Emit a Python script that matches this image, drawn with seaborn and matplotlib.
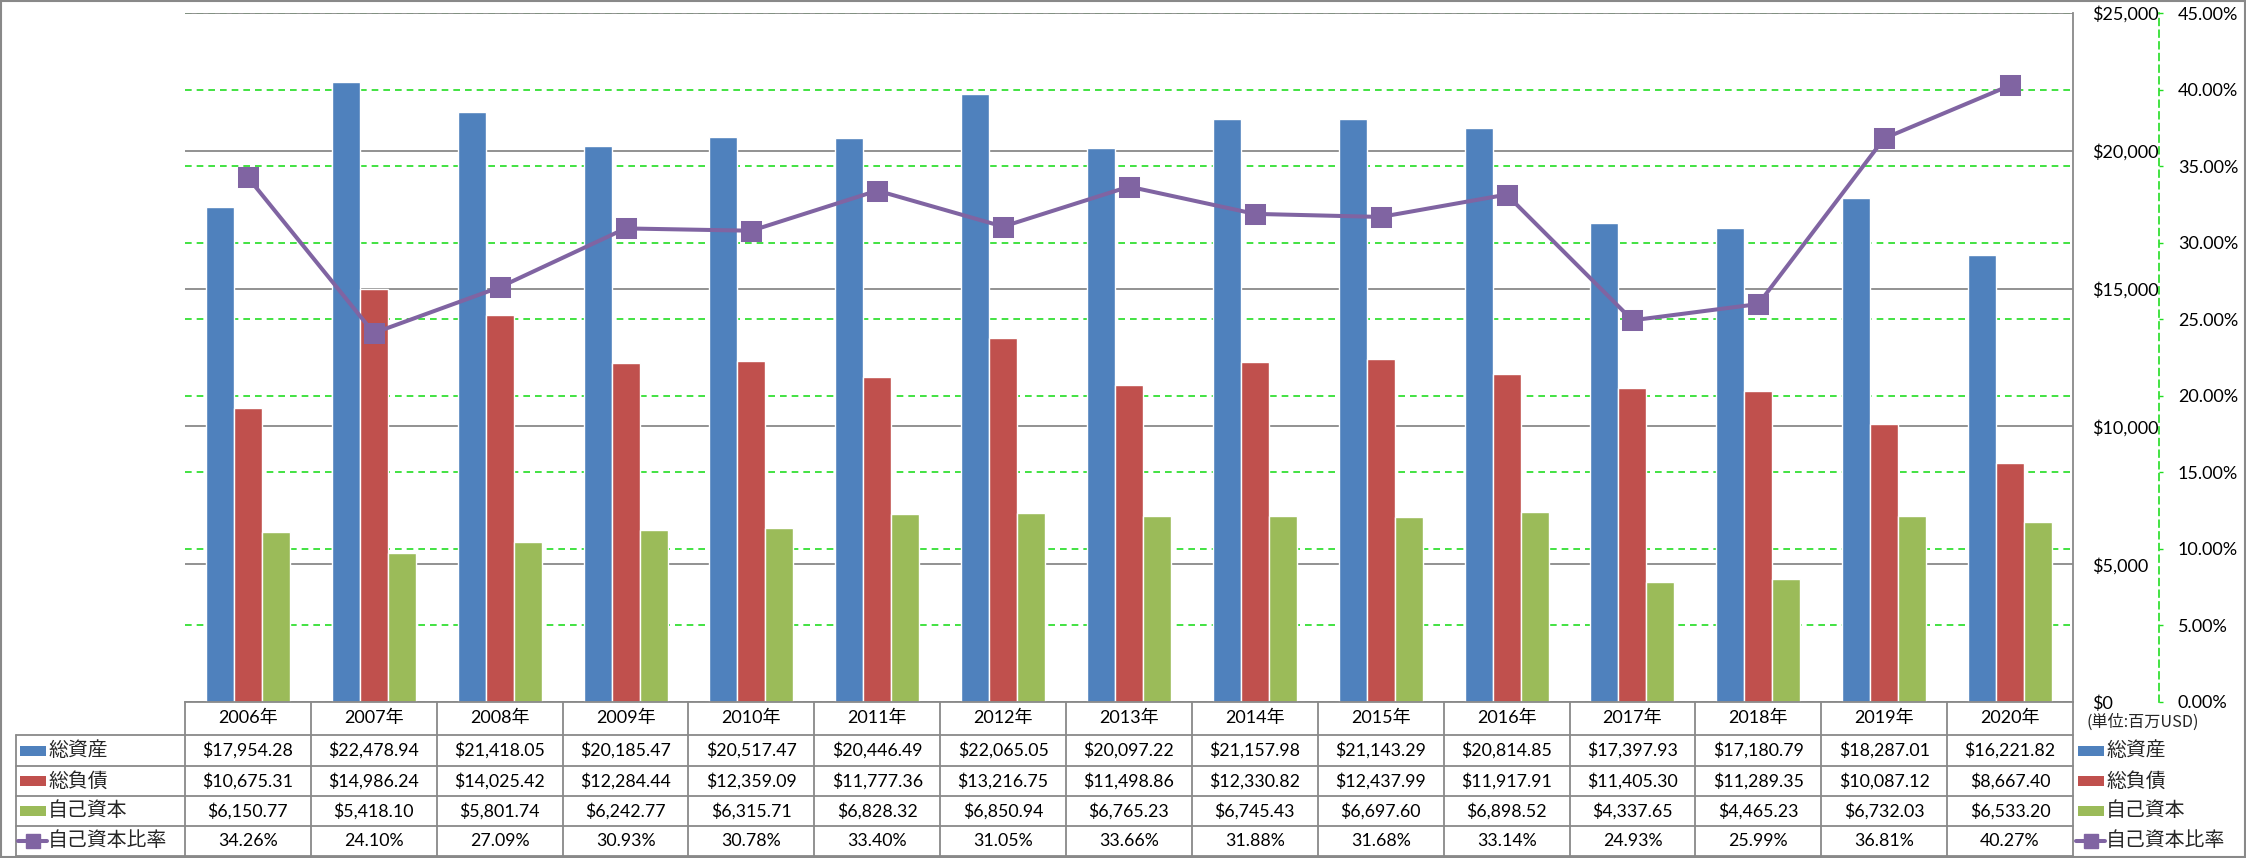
import numpy as np
import pandas as pd
import matplotlib
matplotlib.use('Agg')
import matplotlib.pyplot as plt
import matplotlib.transforms as mtransforms
from matplotlib.lines import Line2D
from matplotlib.patches import Rectangle
import seaborn as sns

# --- data ---
years = ['2006年', '2007年', '2008年', '2009年', '2010年', '2011年', '2012年', '2013年',
         '2014年', '2015年', '2016年', '2017年', '2018年', '2019年', '2020年']
total_assets = [17954.28, 22478.94, 21418.05, 20185.47, 20517.47, 20446.49, 22065.05, 20097.22,
                21157.98, 21143.29, 20814.85, 17397.93, 17180.79, 18287.01, 16221.82]
total_debt = [10675.31, 14986.24, 14025.42, 12284.44, 12359.09, 11777.36, 13216.75, 11498.86,
              12330.82, 12437.99, 11917.91, 11405.30, 11289.35, 10087.12, 8667.40]
equity = [6150.77, 5418.10, 5801.74, 6242.77, 6315.71, 6828.32, 6850.94, 6765.23,
          6745.43, 6697.60, 6898.52, 4337.65, 4465.23, 6732.03, 6533.20]
equity_ratio = [34.26, 24.10, 27.09, 30.93, 30.78, 33.40, 31.05, 33.66,
                31.88, 31.68, 33.14, 24.93, 25.99, 36.81, 40.27]

series_names = ['総資産', '総負債', '自己資本']
ratio_name = '自己資本比率'
colors = ['#4F81BD', '#C0504D', '#9BBB59']
purple = '#8064A2'
grid_gray = '#898989'
green = '#22DD22'

df = pd.DataFrame({'年': years * 3,
                   '系列': np.repeat(series_names, len(years)),
                   '金額': total_assets + total_debt + equity})

sns.set_theme(style='white')
plt.rcParams['font.family'] = ['Lato', 'Noto Sans CJK JP', 'DejaVu Sans']

W, H = 2246, 858
fig = plt.figure(figsize=(W / 100, H / 100), dpi=100)
fig.patch.set_facecolor('white')

def fx(px):
    return px / W

def fy(py):
    return 1 - py / H

L, R, T, B = 185, 2073, 13, 702
pos = [fx(L), fy(B), fx(R) - fx(L), fy(T) - fy(B)]

# green % gridlines sit behind the bars
ax_back = fig.add_axes(pos)
ax_back.set_ylim(0, 0.45)
ax_back.set_yticks(np.arange(0, 0.451, 0.05))
ax_back.grid(axis='y', color=green, ls=(0, (4, 3)), lw=1.2)
ax_back.tick_params(left=False, labelleft=False, bottom=False, labelbottom=False)
for s in ax_back.spines.values():
    s.set_visible(False)

# bars
ax = fig.add_axes(pos)
ax.patch.set_visible(False)
sns.barplot(data=df, x='年', y='金額', hue='系列', hue_order=series_names, palette=colors,
            width=0.667, saturation=1, legend=False, ax=ax)

# ratio line on secondary axis (twinx resets the primary ticks to the left)
ax2 = ax.twinx()
sns.pointplot(x=years, y=[v / 100 for v in equity_ratio], color=purple, markers='s',
              markersize=12.5, linewidth=2.9, errorbar=None, ax=ax2)

ax.set_ylim(0, 25000)
ax.set_yticks(np.arange(0, 25001, 5000))
ax.set_yticklabels([f'${v:,.0f}' for v in np.arange(0, 25001, 5000)])
ax.yaxis.tick_right()
ax.tick_params(axis='y', length=0, pad=13.5, labelsize=13, labelcolor='black')
ax.tick_params(axis='x', length=0, pad=11.5, labelsize=13, labelcolor='black')
for lab in ax.get_xticklabels():
    lab.set_verticalalignment('center')
ax.grid(axis='y', color=grid_gray, lw=1.3)
ax.set_axisbelow(True)
ax.set_xlabel('')
ax.set_ylabel('')
for k in ['left', 'top']:
    ax.spines[k].set_visible(False)
for k in ['right', 'bottom']:
    ax.spines[k].set_color(grid_gray)
    ax.spines[k].set_linewidth(1.3)

ax2.set_ylim(0, 0.45)
ax2.set_yticks(np.arange(0, 0.451, 0.05))
ax2.set_yticklabels([f'{v:.2f}%' for v in np.arange(0, 45.01, 5)])
ax2.tick_params(axis='y', direction='out', length=3, width=1, color=green, pad=10.5,
                labelsize=13, labelcolor='black')
ax2.tick_params(axis='x', bottom=False, labelbottom=False)
ax2.set_xlabel('')
ax2.set_ylabel('')
for k in ['left', 'top', 'bottom']:
    ax2.spines[k].set_visible(False)
ax2.spines['right'].set_position(('outward', (2159 - R) * 0.72))
ax2.spines['right'].set_color(green)
ax2.spines['right'].set_linestyle((0, (4, 3)))
ax2.spines['right'].set_linewidth(1.2)
ax2.set_xlim(ax.get_xlim())

# --- data table ---
blend = mtransforms.blended_transform_factory(ax.transData, fig.transFigure)
row_edges = [B, 735, 766, 796, 826, 856]
rows_y = [(row_edges[i] + row_edges[i + 1]) / 2 for i in range(1, 5)]

def hline(x0, x1, y):
    fig.add_artist(Line2D([fx(x0), fx(x1)], [fy(y), fy(y)], transform=fig.transFigure,
                          color=grid_gray, lw=1.3))

for y in row_edges[1:]:
    hline(16, R, y)
fig.add_artist(Line2D([fx(16), fx(16)], [fy(735), fy(856)], transform=fig.transFigure,
                      color=grid_gray, lw=1.3))
for i in range(len(years) + 1):
    fig.add_artist(Line2D([i - 0.5, i - 0.5], [fy(B), fy(856)], transform=blend,
                          color=grid_gray, lw=1.3))

table_rows = [[f'${v:,.2f}' for v in total_assets],
              [f'${v:,.2f}' for v in total_debt],
              [f'${v:,.2f}' for v in equity],
              [f'{v:.2f}%' for v in equity_ratio]]
for r, vals in enumerate(table_rows):
    for i, txt in enumerate(vals):
        fig.text(i, fy(rows_y[r]), txt, transform=blend, ha='center', va='center',
                 fontsize=12.8, color='black')

jp = ['Noto Sans CJK JP', 'DejaVu Sans']

def legend_key(x, y, r):
    if r < 3:
        fig.add_artist(Rectangle((fx(x), fy(y + 5)), fx(26), 10 / H, transform=fig.transFigure,
                                 facecolor=colors[r], edgecolor='none'))
    else:
        fig.add_artist(Line2D([fx(x - 2), fx(x + 27)], [fy(y), fy(y)], transform=fig.transFigure,
                              color=purple, lw=2.9))
        fig.add_artist(Line2D([fx(x + 12.5)], [fy(y)], transform=fig.transFigure,
                              color=purple, marker='s', markersize=10, markeredgecolor=purple))

labels = series_names + [ratio_name]
for r, name in enumerate(labels):
    legend_key(20, rows_y[r], r)
    fig.text(fx(48), fy(rows_y[r]), name, ha='left', va='center', fontsize=14.3, family=jp)
    legend_key(2078, rows_y[r], r)
    fig.text(fx(2106), fy(rows_y[r]), name, ha='left', va='center', fontsize=14.3, family=jp)

fig.text(fx(2087), fy(722), '(単位:百万USD)', ha='left', va='center', fontsize=11.6, family=jp)

# chart border
fig.add_artist(Rectangle((fx(1), fy(857)), fx(2244), 856 / H, transform=fig.transFigure,
                         facecolor='none', edgecolor=grid_gray, lw=1.5))

fig.savefig('out.png', dpi=100)
